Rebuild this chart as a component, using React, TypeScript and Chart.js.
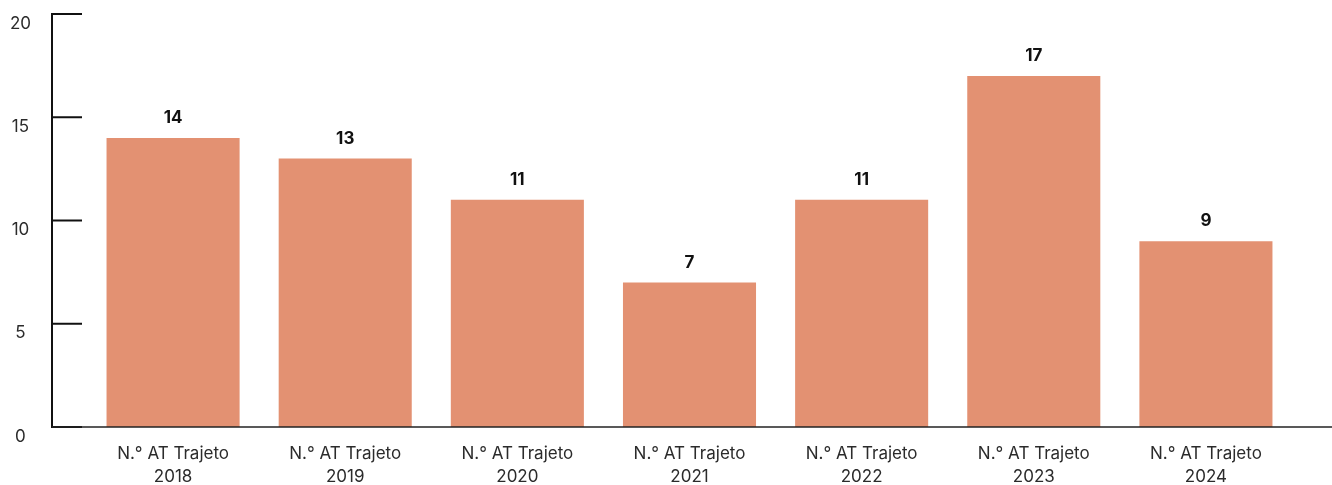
import React, { useEffect, useRef } from "react";
import { Chart, registerables } from "chart.js";

Chart.register(...registerables);

const labelPrefix = "N.° AT Trajeto";
const years = ["2018", "2019", "2020", "2021", "2022", "2023", "2024"];
const values = [14, 13, 11, 7, 11, 17, 9];
const yTicks = [0, 5, 10, 15, 20];

const BAR_COLOR = "#E39172";
const TEXT_COLOR = "#2b2b2b";
const AXIS_COLOR = "#111111";
const FONT = "Inter, 'Noto Sans', sans-serif";

const axesPlugin = {
  id: "customAxes",
  afterDatasetsDraw(chart: any) {
    const { ctx, scales } = chart;
    const y = scales.y;
    const axisX = 52;
    const y0 = y.getPixelForValue(0);
    const yTop = y.getPixelForValue(yTicks[yTicks.length - 1]);
    ctx.save();
    ctx.strokeStyle = AXIS_COLOR;
    ctx.lineWidth = 2;
    // y axis line
    ctx.beginPath();
    ctx.moveTo(axisX, yTop - 1);
    ctx.lineTo(axisX, y0 + 1);
    ctx.stroke();
    // ticks pointing inward
    yTicks.forEach((t) => {
      const py = y.getPixelForValue(t);
      ctx.beginPath();
      ctx.moveTo(axisX, py);
      ctx.lineTo(axisX + 30, py);
      ctx.stroke();
    });
    // x axis line
    ctx.strokeStyle = "#222222";
    ctx.lineWidth = 1.6;
    ctx.beginPath();
    ctx.moveTo(axisX, y0);
    ctx.lineTo(chart.width, y0);
    ctx.stroke();
    // data labels
    const meta = chart.getDatasetMeta(0);
    ctx.fillStyle = "#111111";
    ctx.font = `bold 17px ${FONT}`;
    ctx.textAlign = "center";
    ctx.textBaseline = "middle";
    meta.data.forEach((bar: any, i: number) => {
      ctx.fillText(String(values[i]), bar.x, bar.y - 20);
    });
    ctx.restore();
  },
};

export default function App() {
  const canvasRef = useRef<HTMLCanvasElement | null>(null);

  useEffect(() => {
    document.body.style.margin = "0";
    const canvas = canvasRef.current;
    if (!canvas) return;
    const chart = new Chart(canvas, {
      type: "bar",
      data: {
        labels: years.map((yr) => [labelPrefix, yr]),
        datasets: [
          {
            data: values,
            backgroundColor: BAR_COLOR,
            borderWidth: 0,
            categoryPercentage: 1,
            barPercentage: 0.773,
          },
        ],
      },
      options: {
        animation: false,
        responsive: false,
        maintainAspectRatio: false,
        layout: { padding: { top: 14, right: 40, bottom: 0, left: 0 } },
        plugins: {
          legend: { display: false },
          tooltip: { enabled: false },
        },
        scales: {
          x: {
            grid: { display: false, drawTicks: false },
            border: { display: false },
            ticks: {
              color: TEXT_COLOR,
              font: { family: FONT, size: 17, lineHeight: "23.5px" },
              padding: 15,
              maxRotation: 0,
              autoSkip: false,
            },
            afterFit(scale: any) {
              scale.height = 58;
              scale.paddingLeft = 0;
              scale.paddingRight = 0;
            },
          },
          y: {
            min: 0,
            max: 20,
            grid: { display: false, drawTicks: false },
            border: { display: false },
            afterBuildTicks(scale: any) {
              scale.ticks = yTicks.map((v) => ({ value: v }));
            },
            ticks: {
              color: TEXT_COLOR,
              font: { family: FONT, size: 17 },
              padding: 56,
              crossAlign: "center",
              labelOffset: 9.5,
            },
            afterFit(scale: any) {
              scale.width = 87;
              scale.paddingTop = 0;
              scale.paddingBottom = 0;
            },
          },
        },
      },
      plugins: [axesPlugin],
    });
    return () => chart.destroy();
  }, []);

  return (
    <div style={{ width: 1332, height: 485 }}>
      <canvas ref={canvasRef} width={1332} height={485} style={{ display: "block" }} />
    </div>
  );
}
